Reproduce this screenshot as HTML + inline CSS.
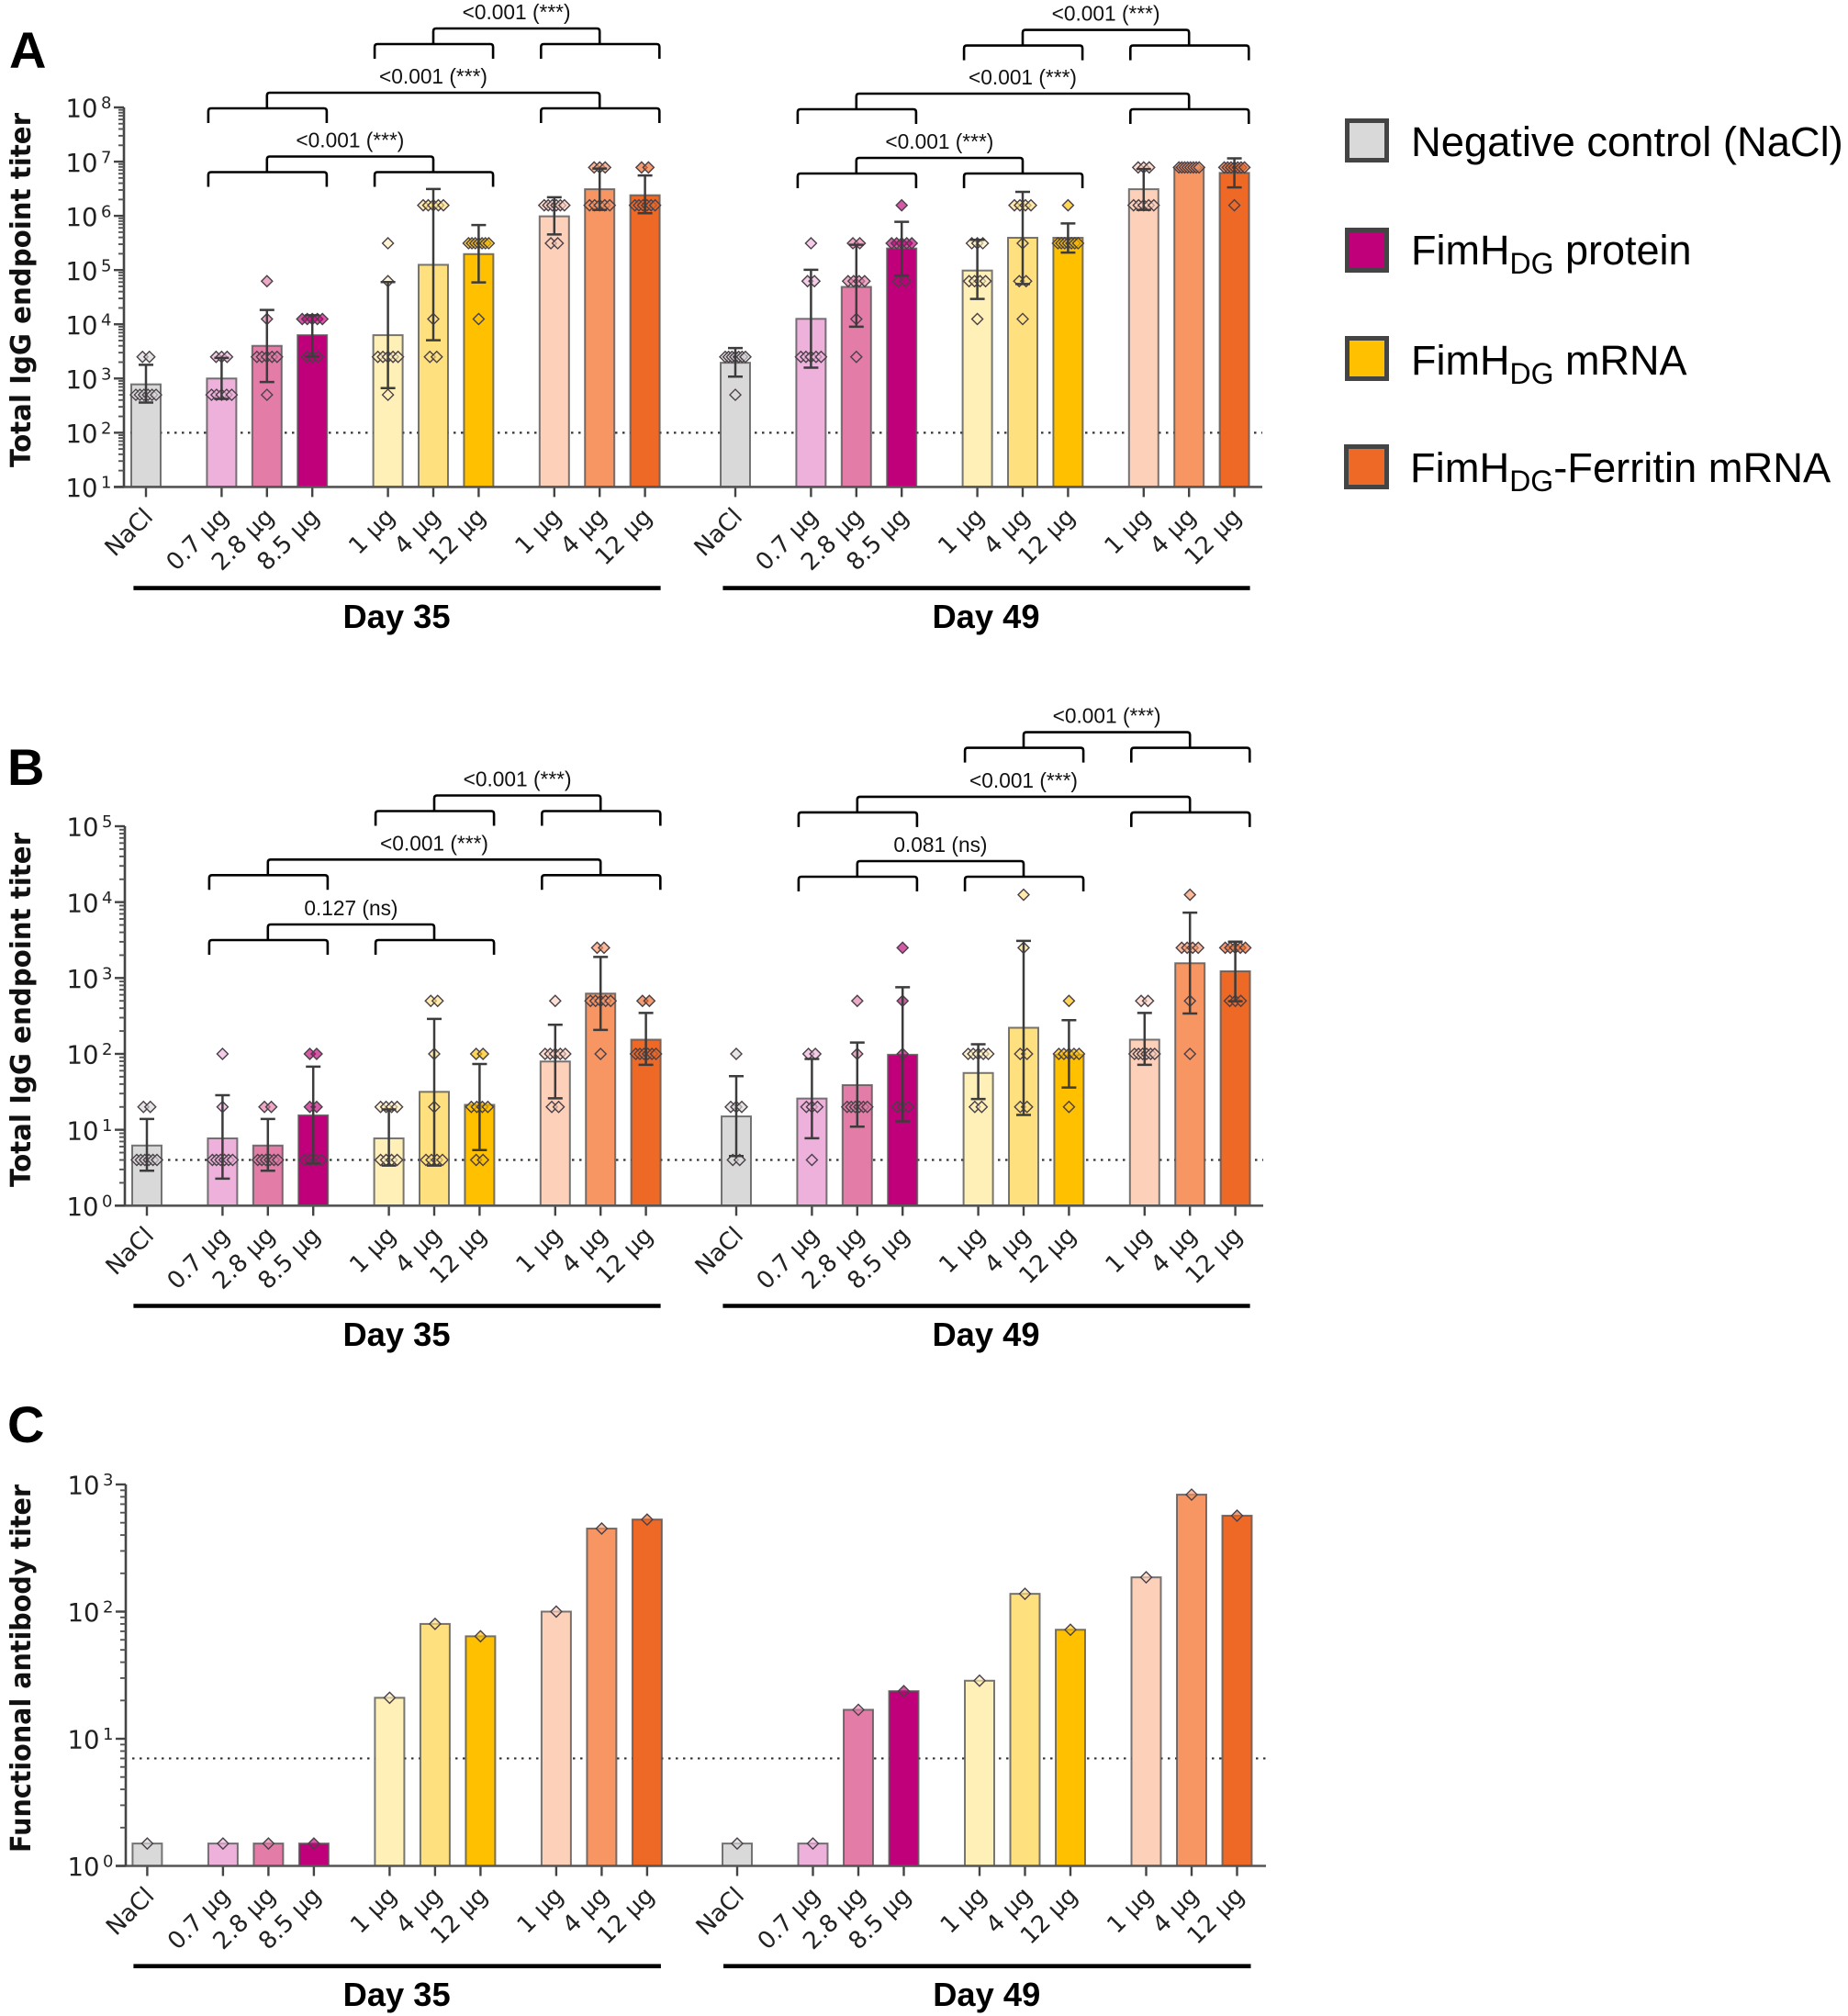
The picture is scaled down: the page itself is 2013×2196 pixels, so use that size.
<!DOCTYPE html>
<html lang="en">
<head>
<meta charset="utf-8">
<title>Total IgG and functional antibody titers</title>
<style>
html,body{margin:0;padding:0;background:#fff;}
svg{display:block;}
text{font-family:"Liberation Sans",sans-serif;}
.dv{font-family:"DejaVu Sans",sans-serif;}
</style>
</head>
<body>
<svg id="figure" xmlns="http://www.w3.org/2000/svg" width="2013" height="2196" viewBox="0 0 2013 2196">
<rect x="0" y="0" width="2013" height="2196" fill="#fff"/>
<text x="10" y="74" font-size="56" font-weight="bold">A</text>
<text x="8" y="855" font-size="56" font-weight="bold">B</text>
<text x="8" y="1571" font-size="56" font-weight="bold">C</text>
<g>
  <g>
    <rect x="1467.5" y="131.5" width="43" height="43" fill="#d9d9d9" stroke="#444" stroke-width="5"/>
    <text x="1537" y="170" font-size="45.3">Negative control (NaCl)</text>
  </g>
  <g>
    <rect x="1467.5" y="250.5" width="43" height="44" fill="#c0007a" stroke="#444" stroke-width="5"/>
    <text x="1537" y="288" font-size="45">FimH<tspan font-size="32" dy="10">DG</tspan><tspan dy="-10"> protein</tspan></text>
  </g>
  <g>
    <rect x="1467.5" y="368.5" width="43" height="44" fill="#ffc000" stroke="#444" stroke-width="5"/>
    <text x="1537" y="408" font-size="45">FimH<tspan font-size="32" dy="10">DG</tspan><tspan dy="-10"> mRNA</tspan></text>
  </g>
  <g>
    <rect x="1466.5" y="486.5" width="44" height="44" fill="#ee6826" stroke="#444" stroke-width="5"/>
    <text x="1536" y="525" font-size="45.3">FimH<tspan font-size="32" dy="10">DG</tspan><tspan dy="-10">-Ferritin mRNA</tspan></text>
  </g>
</g>
</svg>
<script>
// ---------- shared categories ----------
const doseLabels = ['NaCl','0.7 µg','2.8 µg','8.5 µg','1 µg','4 µg','12 µg','1 µg','4 µg','12 µg'];
const dayLabels = ['Day 35','Day 49'];

// ---------- Panel A: total IgG (log scale) ----------
const aTicks = [1,2,3,4,5,6,7,8];
const aThreshold = 100;
const aDay35Means = [780,1000,4000,6300,6300,125000,197000,980000,3100000,2400000];
const aDay35Low = [360,420,860,2540,664,5080,59200,453000,1290000,1120000];
const aDay35High = [1790,2400,18400,14700,60100,3130000,676000,2200000,7460000,5560000];
const aDay35Points = [
  [2500,2500,500,500,500,500,500,500],
  [2500,2500,2500,500,500,500,500,500],
  [62500,12500,2500,2500,2500,2500,2500,500],
  [12500,12500,12500,12500,12500,2500,2500,2500],
  [312500,62500,2500,2500,2500,2500,2500,500],
  [1562500,1562500,1562500,1562500,1562500,12500,2500,2500],
  [312500,312500,312500,312500,312500,312500,312500,12500],
  [1562500,1562500,1562500,1562500,1562500,1562500,312500,312500],
  [7812500,7812500,7812500,1562500,1562500,1562500,1562500,1562500],
  [7812500,7812500,1562500,1562500,1562500,1562500,1562500,1562500]
];
const aDay49Means = [1950,12600,48900,251000,98000,394000,394000,3100000,7812500,6200000];
const aDay49Low = [1080,1585,9000,79400,29400,55200,210000,1290000,7812500,3350000];
const aDay49High = [3650,101000,293000,776000,361000,2770000,724000,7300000,7812500,11500000];
const aDay49Points = [
  [2500,2500,2500,2500,2500,2500,2500,500],
  [312500,62500,62500,2500,2500,2500,2500,2500],
  [312500,312500,62500,62500,62500,62500,12500,2500],
  [1562500,312500,312500,312500,312500,312500,62500,62500],
  [312500,312500,312500,62500,62500,62500,62500,12500],
  [1562500,1562500,1562500,1562500,312500,62500,62500,12500],
  [1562500,312500,312500,312500,312500,312500,312500,312500],
  [7812500,7812500,7812500,1562500,1562500,1562500,1562500,1562500],
  [7812500,7812500,7812500,7812500,7812500,7812500,7812500,7812500],
  [7812500,7812500,7812500,7812500,7812500,7812500,7812500,1562500]
];
const aPValuesDay35 = ['<0.001 (***)','<0.001 (***)','<0.001 (***)'];
const aPValuesDay49 = ['<0.001 (***)','<0.001 (***)','<0.001 (***)'];

// ---------- Panel B: total IgG (log scale) ----------
const bTicks = [0,1,2,3,4,5];
const bThreshold = 4;
const bDay35Means = [6.2,7.7,6.2,15.5,7.7,31.6,21.3,79.4,623,154];
const bDay35Low = [2.89,2.27,2.89,3.6,3.37,3.37,5.41,26,207,71.8];
const bDay35High = [13.9,28.5,13.9,68,18.5,289,73.6,242,1896,346];
const bDay35Points = [
  [20,20,4,4,4,4,4,4],
  [100,20,4,4,4,4,4,4],
  [20,20,4,4,4,4,4,4],
  [100,100,20,20,4,4,4,4],
  [20,20,20,20,4,4,4,4],
  [500,500,100,20,4,4,4,4],
  [100,100,20,20,20,20,4,4],
  [500,100,100,100,100,100,20,20],
  [2500,2500,500,500,500,500,500,100],
  [500,500,100,100,100,100,100,100]
];
const bDay49Means = [15,25.8,38.8,97.5,56,221,97.5,154,1565,1227];
const bDay49Low = [4.5,7.74,11,12.9,25.4,15.7,36,71.8,341,494];
const bDay49High = [50.8,85.8,141,755,134,3083,278,346,7262,3006];
const bDay49Points = [
  [100,20,20,20,4,4],
  [100,100,20,20,20,4],
  [500,100,20,20,20,20,20,20],
  [2500,500,100,20,20,20],
  [100,100,100,100,100,20,20],
  [12500,2500,100,100,20,20],
  [500,100,100,100,100,100,20],
  [500,500,100,100,100,100,100,100],
  [12500,2500,2500,2500,2500,500,100],
  [2500,2500,2500,2500,2500,500,500,500]
];
const bPValuesDay35 = ['<0.001 (***)','<0.001 (***)','0.127 (ns)'];
const bPValuesDay49 = ['<0.001 (***)','<0.001 (***)','0.081 (ns)'];

// ---------- Panel C: functional antibody titer ----------
const cTicks = [0,1,2,3];
const cThreshold = 7;
const cDay35Values = [1.5,1.5,1.5,1.5,21,80,64,100,450,530];
const cDay49Values = [1.5,1.5,16.9,23.7,28.6,138,72,186,832,568];

// ---------- styling ----------
const barPalette = ['#d9d9d9','#eeb1dc','#e37da8','#c0007a','#fff0b8','#ffe07f','#ffc000','#fdd0ba','#f79563','#ee6826'];
const SVGNS = 'http://www.w3.org/2000/svg';
const fig = document.getElementById('figure');

function svgEl(tag, attrs, parent){
  const node = document.createElementNS(SVGNS, tag);
  for (const k in attrs) node.setAttribute(k, attrs[k]);
  (parent || fig).appendChild(node);
  return node;
}

function makeLogY(geo, ticks){
  const lo = ticks[0], hi = ticks[ticks.length-1];
  return v => geo.bottom - (Math.log10(v) - lo) * (geo.bottom - geo.top) / (hi - lo);
}

function makeX(geo, day){
  const groupsBefore = [0,1,1,1,2,2,2,3,3,3];
  return i => geo.x0[day] + geo.step * i + geo.gap * groupsBefore[i];
}

function swarm(values){
  const counts = {}, seen = {}, out = [];
  values.forEach(v => { counts[v] = (counts[v] || 0) + 1; });
  values.forEach(v => {
    const n = counts[v];
    const k = seen[v] || 0;
    seen[v] = k + 1;
    const span = n === 2 ? 7.5 : Math.min(22, (n - 1) * 6);
    const spacing = n > 1 ? span / (n - 1) : 0;
    out.push({value: v, offset: (k - (n - 1) / 2) * spacing});
  });
  return out;
}

function drawYAxis(geo, ticks, y, parent){
  const axis = svgEl('line', {x1:geo.axisX, x2:geo.axisX, y1:geo.top, y2:geo.bottom, stroke:'#444', 'stroke-width':2.6}, parent);
  
  
  ticks.forEach((t, idx) => {
    const py = y(Math.pow(10, t));
    const major = svgEl('line', {x1:geo.axisX-11, x2:geo.axisX, y1:py, y2:py, stroke:'#444', 'stroke-width':2.4}, parent);
    
    
    const label = svgEl('text', {x:geo.axisX-63.5, y:py+10.7, 'font-size':27.5, fill:'#222', class:'dv'}, parent);
    
    
    label.textContent = '10';
    const sup = svgEl('tspan', {dx:3.5, dy:-9.5, 'font-size':18}, label);
    sup.textContent = String(t);
    if (idx < ticks.length - 1){
      for (let m = 2; m < 10; m++){
        const my = y(m * Math.pow(10, t));
        const minor = svgEl('line', {x1:geo.axisX-6, x2:geo.axisX, y1:my, y2:my, stroke:'#555', 'stroke-width':1.9}, parent);
        
        
      }
    }
  });
}

function drawYTitle(geo, parent){
  const cy = geo.titleCenter;
  const title = svgEl('text', {x:0, y:0, transform:'translate(33 '+cy+') rotate(-90)', 'text-anchor':'middle', 'font-size':30, 'font-weight':'bold', fill:'#111', class:'dv', textLength:geo.titleLength, lengthAdjust:'spacingAndGlyphs'}, parent);
  
  
  title.textContent = geo.title;
}

function drawXAxis(geo, parent){
  const axis = svgEl('line', {x1:geo.axisX-11, x2:geo.xEnd, y1:geo.bottom, y2:geo.bottom, stroke:'#555', 'stroke-width':2.6}, parent);
  
  
}

function drawThreshold(geo, y, value, parent){
  const py = y(value);
  const line = svgEl('line', {x1:geo.axisX+7, x2:geo.xEnd, y1:py, y2:py, stroke:'#333', 'stroke-width':2.2, 'stroke-dasharray':'2.5 5.5'}, parent);
  
  
}

function drawDiamond(cx, cy, color, parent){
  const r = 6;
  const d = svgEl('polygon', {points:[cx,cy-r, cx+r,cy, cx,cy+r, cx-r,cy].join(','), fill:color, 'fill-opacity':0.65, stroke:'#4a4048', 'stroke-width':1.4}, parent);
  
  
}

function drawDay(geo, day, y, means, low, high, points, parent){
  const x = makeX(geo, day);
  const g = svgEl('g', {}, parent);
  
  
  means.forEach((m, i) => {
    const px = x(i), py = y(m);
    const bar = svgEl('rect', {x:px-16, y:py, width:32, height:geo.bottom-py, fill:barPalette[i], stroke:'#555', 'stroke-opacity':0.8, 'stroke-width':2}, g);
    
    
    const tick = svgEl('line', {x1:px, x2:px, y1:geo.bottom, y2:geo.bottom+11, stroke:'#444', 'stroke-width':2.4}, g);
    
    
    const tx = px + 9, ty = geo.bottom + 34;
    const label = svgEl('text', {x:tx, y:ty, transform:'rotate(-45 '+tx+' '+ty+')', 'text-anchor':'end', 'font-size':26, fill:'#222', class:'dv'}, g);
    
    
    label.textContent = doseLabels[i];
  });
  means.forEach((m, i) => {
    const vals = points ? points[i] : [m];
    swarm(vals).forEach(p => drawDiamond(x(i) + p.offset, y(p.value), barPalette[i], g));
  });
  if (low && high){
    means.forEach((m, i) => {
      if (low[i] === high[i]) return;
      const px = x(i), yl = y(low[i]), yh = y(high[i]);
      const err = svgEl('path', {d:'M'+(px-8)+' '+yh+'H'+(px+8)+'M'+px+' '+yh+'V'+yl+'M'+(px-8)+' '+yl+'H'+(px+8), fill:'none', stroke:'#3c3c3c', 'stroke-width':2.5}, g);
      
      
    });
  }
  const rule = svgEl('line', {x1:x(0)-geo.ruleLeft, x2:x(9)+geo.ruleRight, y1:geo.ruleY, y2:geo.ruleY, stroke:'#000', 'stroke-width':4.6}, parent);
  
  
  const dayText = svgEl('text', {x:(x(0)-geo.ruleLeft+x(9)+geo.ruleRight)/2 - 0.5, y:geo.dayBaseline, 'text-anchor':'middle', 'font-size':36.3, 'font-weight':'bold', fill:'#000'}, parent);
  
  
  dayText.textContent = dayLabels[day];
}

function drawBracketGroup(x, pair, rowY, label, parent){
  const groupSpans = [[1,3],[4,6],[7,9]];
  const lowerY = rowY + 17, legEnd = rowY + 33;
  const centers = pair.map(idx => {
    const s = groupSpans[idx];
    const xl = x(s[0]) - 14.5, xr = x(s[1]) + 15.7;
    const b = svgEl('path', {d:'M'+xl+' '+legEnd+'V'+(lowerY+3)+'Q'+xl+' '+lowerY+' '+(xl+3)+' '+lowerY+'H'+(xr-3)+'Q'+xr+' '+lowerY+' '+xr+' '+(lowerY+3)+'V'+legEnd, fill:'none', stroke:'#000', 'stroke-width':2.6}, parent);
    
    
    return x(s[0] + 1);
  });
  const a = centers[0], c = centers[1];
  const conn = svgEl('path', {d:'M'+a+' '+lowerY+'V'+(rowY+3)+'Q'+a+' '+rowY+' '+(a+3)+' '+rowY+'H'+(c-3)+'Q'+c+' '+rowY+' '+c+' '+(rowY+3)+'V'+lowerY, fill:'none', stroke:'#000', 'stroke-width':2.6}, parent);
  
  
  const t = svgEl('text', {x:(a+c)/2, y:rowY-10, 'text-anchor':'middle', 'font-size':22.7, fill:'#111'}, parent);
  
  
  t.textContent = label;
}

function drawPanel(name, geo, ticks, threshold, days, brackets){
  const g = svgEl('g', {});
  
  
  const y = makeLogY(geo, ticks);
  drawThreshold(geo, y, threshold, g);
  days.forEach((d, idx) => drawDay(geo, idx, y, d.means, d.low, d.high, d.points, g));
  drawXAxis(geo, g);
  drawYAxis(geo, ticks, y, g);
  drawYTitle(geo, g);
  if (brackets){
    brackets.forEach((rows, day) => {
      const x = makeX(geo, day);
      rows.forEach(r => drawBracketGroup(x, r.pair, r.y, r.label, g));
    });
  }
}

// ---------- panels ----------
drawPanel('A',
  {axisX:135, top:117, bottom:530.4, x0:[159,801], step:49.4, gap:33, xEnd:1375, ruleLeft:13.6, ruleRight:17, ruleY:640.6, dayBaseline:684,
   title:'Total IgG endpoint titer', titleCenter:316, titleLength:386},
  aTicks, aThreshold,
  [{means:aDay35Means, low:aDay35Low, high:aDay35High, points:aDay35Points},
   {means:aDay49Means, low:aDay49Low, high:aDay49High, points:aDay49Points}],
  [[{pair:[1,2], y:31, label:aPValuesDay35[0]},{pair:[0,2], y:101, label:aPValuesDay35[1]},{pair:[0,1], y:170.5, label:aPValuesDay35[2]}],
   [{pair:[1,2], y:32.6, label:aPValuesDay49[0]},{pair:[0,2], y:102, label:aPValuesDay49[1]},{pair:[0,1], y:172, label:aPValuesDay49[2]}]]
);

drawPanel('B',
  {axisX:136, top:900, bottom:1313.3, x0:[160,802], step:49.4, gap:33, xEnd:1376, ruleLeft:14.6, ruleRight:16, ruleY:1422.5, dayBaseline:1466,
   title:'Total IgG endpoint titer', titleCenter:1100, titleLength:386},
  bTicks, bThreshold,
  [{means:bDay35Means, low:bDay35Low, high:bDay35High, points:bDay35Points},
   {means:bDay49Means, low:bDay49Low, high:bDay49High, points:bDay49Points}],
  [[{pair:[1,2], y:866.5, label:bPValuesDay35[0]},{pair:[0,2], y:936.3, label:bPValuesDay35[1]},{pair:[0,1], y:1007, label:bPValuesDay35[2]}],
   [{pair:[1,2], y:797.6, label:bPValuesDay49[0]},{pair:[0,2], y:867.9, label:bPValuesDay49[1]},{pair:[0,1], y:938, label:bPValuesDay49[2]}]]
);

drawPanel('C',
  {axisX:137, top:1617, bottom:2032.5, x0:[160.4,803], step:49.5, gap:33, xEnd:1379, ruleLeft:15, ruleRight:15, ruleY:2141.7, dayBaseline:2185,
   title:'Functional antibody titer', titleCenter:1817.5, titleLength:401},
  cTicks, cThreshold,
  [{means:cDay35Values, low:null, high:null, points:null},
   {means:cDay49Values, low:null, high:null, points:null}],
  null
);
</script>
</body>
</html>
